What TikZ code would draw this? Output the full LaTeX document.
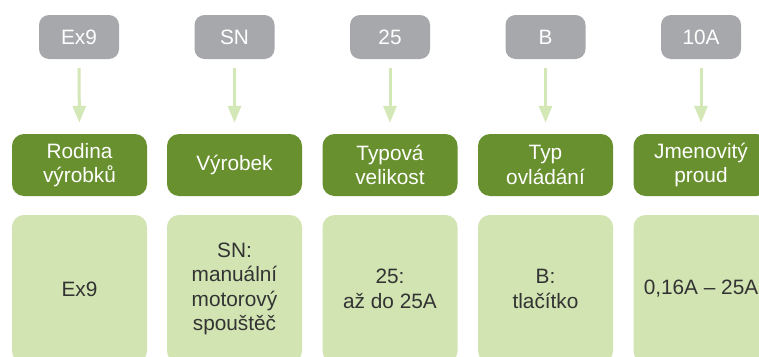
\documentclass[tikz,border=0pt]{standalone}
\usepackage{fontspec}
\setmainfont{Liberation Sans}
\usetikzlibrary{arrows.meta}
\definecolor{codegray}{HTML}{A7A8AB}
\definecolor{darkgreen}{HTML}{68902F}
\definecolor{lightgreen}{HTML}{D1E4B2}
\definecolor{arrowgreen}{HTML}{D4E7B7}
\definecolor{darktext}{HTML}{333333}
\tikzset{
  codebox/.style={fill=codegray, rounded corners=10pt, minimum width=80pt, minimum height=44pt, inner sep=0pt, text=white, font=\fontsize{20.8}{24.5}\selectfont},
  catbox/.style={fill=darkgreen, rounded corners=12pt, minimum width=135pt, minimum height=62pt, inner sep=0pt, text=white, align=center, font=\fontsize{20.8}{24.5}\selectfont},
  descbox/.style={fill=lightgreen, rounded corners=12pt, minimum width=135pt, minimum height=148pt, inner sep=0pt, text=darktext, align=center, font=\fontsize{20.8}{24.5}\selectfont},
  conn/.style={draw=arrowgreen, line width=3pt, -{Triangle[width=13pt,length=17pt]}, shorten <=9pt, shorten >=11pt}
}
\begin{document}
\begin{tikzpicture}[x=1pt,y=-1pt]
\useasboundingbox (0,0) rectangle (759,356);
\fill[white] (0,0) rectangle (759,356);
\begin{scope}
\clip (0,0) rectangle (759,356);
\node[codebox] (c1) at (79,37) {Ex9};
\node[codebox] (c2) at (234.5,37) {SN};
\node[codebox] (c3) at (390,37) {25};
\node[codebox] (c4) at (545.5,37) {B};
\node[codebox] (c5) at (701,37) {10A};
\node[catbox] (k1) at (79.5,165) {Rodina\\výrobků};
\node[catbox] (k2) at (234.5,165) {Výrobek};
\node[catbox] (k3) at (390,165) {Typová\\velikost};
\node[catbox] (k4) at (545.5,165) {Typ\\ovládání};
\node[catbox] (k5) at (701,165) {Jmenovitý\\proud};
\node[descbox] (d1) at (79.5,289) {Ex9};
\node[descbox] (d2) at (234.5,289) {SN:\\manuální\\motorový\\spouštěč};
\node[descbox] (d3) at (390,289) {25:\\až do 25A};
\node[descbox] (d4) at (545.5,289) {B:\\tlačítko};
\node[descbox] (d5) at (701,289) {0,16A – 25A};
\draw[conn] (c1) -- (k1);
\draw[conn] (c2) -- (k2);
\draw[conn] (c3) -- (k3);
\draw[conn] (c4) -- (k4);
\draw[conn] (c5) -- (k5);
\end{scope}
\end{tikzpicture}
\end{document}
